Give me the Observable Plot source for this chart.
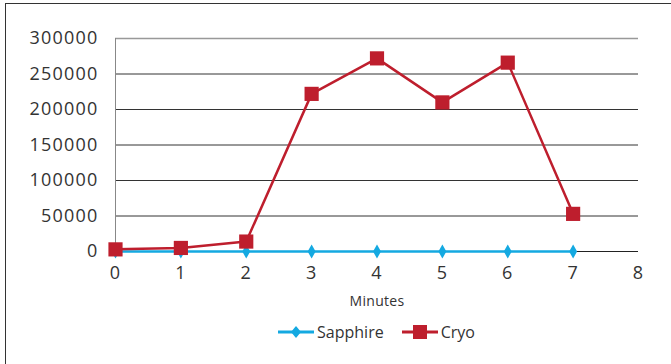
<!DOCTYPE html>
<html>
<head>
<meta charset="utf-8">
<script src="https://cdn.jsdelivr.net/npm/d3@7"></script>
<script src="https://cdn.jsdelivr.net/npm/@observablehq/plot@0.6"></script>
<style>
  html, body { margin: 0; padding: 0; background: #fff; }
  #wrap { position: relative; width: 671px; height: 364px; overflow: hidden; font-family: "Open Sans", Lato, sans-serif; }
  #frame { position: absolute; left: 5px; top: 3px; width: 700px; height: 400px; border: 1px solid #333; }
  #chart { position: absolute; left: 0; top: 0; }
  #legend { position: absolute; left: 115px; top: 321px; width: 523px; display: flex; justify-content: center; gap: 18px; font-size: 16px; color: #333; }
  .item { display: flex; align-items: center; gap: 3px; }
  #chart svg text { letter-spacing: 1.2px; }
</style>
</head>
<body>
<div id="wrap">
  <div id="frame"></div>
  <div id="chart"></div>
  <div id="legend"></div>
</div>
<script>
const minutes = [0, 1, 2, 3, 4, 5, 6, 7];
const sapphire = [0, 0, 0, 0, 0, 0, 0, 0];
const cryo = [3000, 5000, 14000, 222000, 272000, 210000, 266000, 53000];
const yTicks = [0, 50000, 100000, 150000, 200000, 250000, 300000];
const xTicks = [0, 1, 2, 3, 4, 5, 6, 7, 8];
const seriesNames = ["Sapphire", "Cryo"];
const seriesColors = ["#14a9e1", "#be1e2d"];

const rows = [];
minutes.forEach((m, i) => {
  rows.push({minute: m, value: sapphire[i], series: "Sapphire"});
  rows.push({minute: m, value: cryo[i], series: "Cryo"});
});
const sapRows = rows.filter(d => d.series === "Sapphire");
const cryoRows = rows.filter(d => d.series === "Cryo");

const chart = Plot.plot({
  width: 671,
  height: 316,
  marginLeft: 115,
  marginRight: 33,
  marginTop: 38,
  marginBottom: 65,
  style: {fontFamily: "'Open Sans', Lato, sans-serif", fontSize: "18px", color: "#333", background: "transparent"},
  x: {domain: [0, 8]},
  y: {domain: [0, 300000]},
  marks: [
    Plot.ruleY(yTicks.filter(t => t > 0 && t < 300000), {stroke: "#333", strokeWidth: 1}),
    Plot.ruleY([300000], {stroke: "#999", strokeWidth: 1.5}),
    Plot.ruleX([0], {stroke: "#888", strokeWidth: 1}),
    Plot.ruleY([0], {stroke: "#222", strokeWidth: 1}),
    Plot.axisX({ticks: xTicks, tickSize: 0, tickPadding: 15, fontSize: 18, label: "Minutes", labelAnchor: "center", labelArrow: "none", labelOffset: 54}),
    Plot.axisY({ticks: yTicks, tickSize: 0, tickPadding: 17, fontSize: 18, tickFormat: d => String(d), label: null}),
    Plot.lineY(sapRows, {x: "minute", y: "value", stroke: seriesColors[0], strokeWidth: 2.5}),
    Plot.dot(sapRows, {x: "minute", y: "value", symbol: "diamond", r: 4.2, fill: seriesColors[0], stroke: "none"}),
    Plot.lineY(cryoRows, {x: "minute", y: "value", stroke: seriesColors[1], strokeWidth: 2.5}),
    Plot.dot(cryoRows, {x: "minute", y: "value", symbol: "square", r: 8, fill: seriesColors[1], stroke: "none"})
  ]
});
chart.querySelectorAll("[aria-label='x-axis label']").forEach(g => {
  g.setAttribute("font-size", "14");
  g.querySelectorAll("text").forEach(t => { t.setAttribute("font-size", "14"); t.style.letterSpacing = "0.3px"; });
});
document.getElementById("chart").appendChild(chart);

const legend = document.getElementById("legend");
seriesNames.forEach((name, i) => {
  const item = document.createElement("div");
  item.className = "item";
  const sym = i === 0
    ? `<svg width="36" height="14"><line x1="0" y1="7" x2="36" y2="7" stroke="${seriesColors[i]}" stroke-width="3"/><path d="M18,1 L23,7 L18,13 L13,7Z" fill="${seriesColors[i]}"/></svg>`
    : `<svg width="36" height="14"><line x1="0" y1="7" x2="36" y2="7" stroke="${seriesColors[i]}" stroke-width="3"/><rect x="11" y="0" width="14" height="14" fill="${seriesColors[i]}"/></svg>`;
  item.innerHTML = sym + `<span>${name}</span>`;
  legend.appendChild(item);
});
</script>
</body>
</html>
